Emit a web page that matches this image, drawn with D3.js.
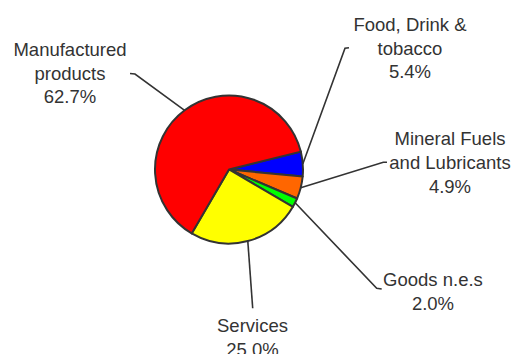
<!DOCTYPE html>
<head>
    <meta charset="utf-8">
    <title>Pie Chart</title>
    <script type="text/javascript" src="https://d3js.org/d3.v7.min.js"></script>
    <style>
        body { margin: 0; background: #fff; }
        text { font-family: "Liberation Sans", Arial, sans-serif; fill: #333; }
    </style>
</head>
<body>
<div id="container"></div>

<script>
    //-----------------------------DATA-----------------------------//
    const categories = ["Food, Drink & tobacco", "Mineral Fuels and Lubricants", "Goods n.e.s", "Services", "Manufactured products"];
    const shares = [5.4, 4.9, 2.0, 25.0, 62.7];
    const labelLines = [["Food, Drink &", "tobacco"], ["Mineral Fuels", "and Lubricants"], ["Goods n.e.s"], ["Services"], ["Manufactured", "products"]];
    const colors = ["#0000ff", "#ff6600", "#00ff00", "#ffff00", "#ff0000"];

    //----------------------------LAYOUT----------------------------//
    const width = 515;
    const height = 354;
    const cx = 229, cy = 169.5, radius = 74;
    const fontSize = 18.5;
    const lineGap = 23.8;
    // label centre x, first baseline y, and leader elbow points (label side)
    const labelPos = [
        {x: 410, y: 30.7, elbow: [[349, 47.7], [345, 48.3]]},
        {x: 450, y: 145, elbow: [[387, 162.3], [383.3, 162.3]]},
        {x: 433, y: 285.7, elbow: [[381.7, 289], [376.7, 288.3]]},
        {x: 252.5, y: 331.7, elbow: [[252.7, 308.3]]},
        {x: 70, y: 55.7, elbow: [[130, 73.5], [135, 74]]}
    ];

    const svg = d3.select("#container").append("svg")
        .attr("width", width)
        .attr("height", height);

    const data = categories.map(function(c, i) {
        return {name: c, value: shares[i], lines: labelLines[i], color: colors[i], pos: labelPos[i]};
    });

    const start = 76 * Math.PI / 180;
    const pie = d3.pie()
        .sort(null)
        .value(function(d) { return d.value; })
        .startAngle(start)
        .endAngle(start + 2 * Math.PI);

    const arcs = pie(data);

    const arc = d3.arc().innerRadius(0).outerRadius(radius);
    const edgeArc = d3.arc().innerRadius(radius).outerRadius(radius);

    //----------------------------LEADERS---------------------------//
    const g = svg.append("g");

    g.selectAll(".leader")
        .data(arcs)
        .enter()
        .append("path")
        .attr("class", "leader")
        .attr("fill", "none")
        .attr("stroke", "#333")
        .attr("stroke-width", 1.6)
        .attr("d", function(d) {
            const c = edgeArc.centroid(d);
            const pts = d.data.pos.elbow.concat([[c[0] + cx, c[1] + cy]]);
            return d3.line()(pts);
        });

    //-----------------------------PIE------------------------------//
    g.append("g")
        .attr("transform", "translate(" + cx + "," + cy + ")")
        .selectAll("path")
        .data(arcs)
        .enter()
        .append("path")
        .attr("d", arc)
        .attr("fill", function(d) { return d.data.color; })
        .attr("stroke", "#333")
        .attr("stroke-width", 2)
        .attr("stroke-linejoin", "round");

    //----------------------------LABELS----------------------------//
    const fmt = d3.format(".1f");
    const labels = svg.selectAll(".label")
        .data(arcs)
        .enter()
        .append("text")
        .attr("class", "label")
        .attr("text-anchor", "middle")
        .style("font-size", fontSize + "px");

    labels.each(function(d) {
        const t = d3.select(this);
        const rows = d.data.lines.concat([fmt(d.data.value) + "%"]);
        rows.forEach(function(r, i) {
            t.append("tspan")
                .attr("x", d.data.pos.x)
                .attr("y", d.data.pos.y + i * lineGap)
                .text(r);
        });
    });
</script>
</body>
